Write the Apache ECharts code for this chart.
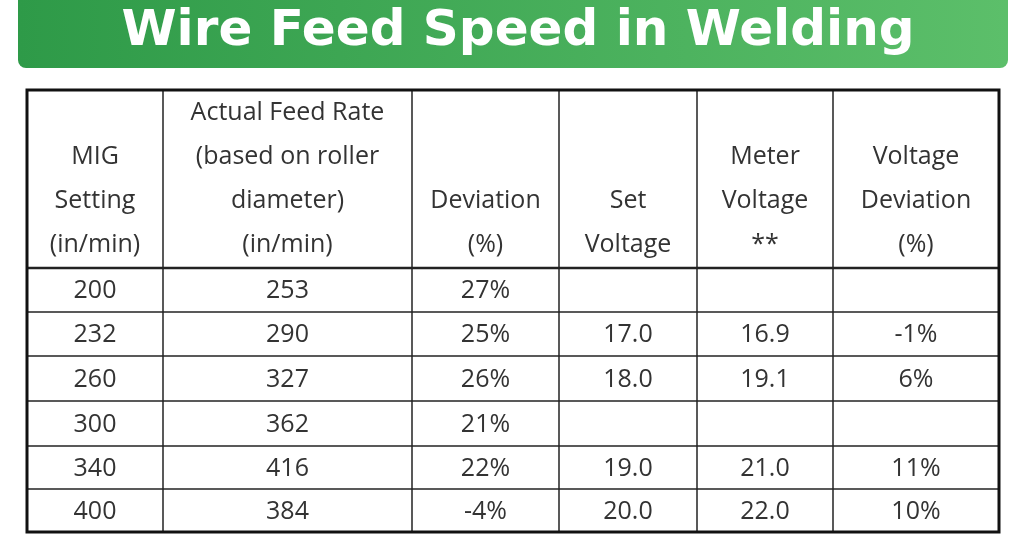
<!DOCTYPE html>
<html>
<head>
<meta charset="utf-8">
<script src="https://cdn.jsdelivr.net/npm/echarts@6/dist/echarts.min.js"></script>
<style>html,body{margin:0;padding:0;background:#fff}#main{width:1024px;height:538px}</style>
</head>
<body>
<div id="main"></div>
<script>
// table data
var title = 'Wire Feed Speed in Welding';
var headers = [
    ['MIG', 'Setting', '(in/min)'],
    ['Actual Feed Rate', '(based on roller', 'diameter)', '(in/min)'],
    ['Deviation', '(%)'],
    ['Set', 'Voltage'],
    ['Meter', 'Voltage', '**'],
    ['Voltage', 'Deviation', '(%)']
];
var migSetting = ['200', '232', '260', '300', '340', '400'];
var actualFeed = ['253', '290', '327', '362', '416', '384'];
var deviation = ['27%', '25%', '26%', '21%', '22%', '-4%'];
var setVoltage = ['', '17.0', '18.0', '', '19.0', '20.0'];
var meterVoltage = ['', '16.9', '19.1', '', '21.0', '22.0'];
var voltDeviation = ['', '-1%', '6%', '', '11%', '10%'];

var columns = [migSetting, actualFeed, deviation, setVoltage, meterVoltage, voltDeviation];
var colX = [27, 163, 412, 559, 697, 833, 999];
var rowY = [90, 268, 312, 356, 401, 446, 489, 532];
var font = '"Open Sans", sans-serif';

var els = [];
// title banner
els.push({
    type: 'rect',
    shape: {x: 18, y: -10, width: 990, height: 78, r: 8},
    style: {fill: new echarts.graphic.LinearGradient(0, 0, 1, 0, [
        {offset: 0, color: '#2e9a48'}, {offset: 1, color: '#5cbf6a'}])}
});
els.push({
    type: 'text', x: 518, y: 32,
    style: {text: title, fill: '#fff', font: 'bold 50px "DejaVu Sans", sans-serif', align: 'center', verticalAlign: 'middle'}
});
// grid lines
for (var i = 1; i < colX.length - 1; i++) {
    els.push({type: 'line', shape: {x1: colX[i], y1: rowY[0], x2: colX[i], y2: rowY[rowY.length - 1]},
        style: {stroke: '#222', lineWidth: 1.5}});
}
for (var j = 1; j < rowY.length - 1; j++) {
    els.push({type: 'line', shape: {x1: colX[0], y1: rowY[j], x2: colX[colX.length - 1], y2: rowY[j]},
        style: {stroke: '#222', lineWidth: j == 1 ? 2.5 : 1.5}});
}
els.push({type: 'rect', shape: {x: colX[0], y: rowY[0], width: colX[6] - colX[0], height: rowY[7] - rowY[0]},
    style: {fill: 'none', stroke: '#111', lineWidth: 3}});
// header text, bottom aligned
for (var c = 0; c < headers.length; c++) {
    var lines = headers[c];
    var cx = (colX[c] + colX[c + 1]) / 2;
    for (var k = 0; k < lines.length; k++) {
        els.push({type: 'text', x: cx, y: 245 - (lines.length - 1 - k) * 44,
            style: {text: lines[k], fill: '#333', font: '25px ' + font, align: 'center', verticalAlign: 'middle'}});
    }
}
// body text
for (var c = 0; c < columns.length; c++) {
    var cx = (colX[c] + colX[c + 1]) / 2;
    for (var r = 0; r < columns[c].length; r++) {
        if (!columns[c][r]) continue;
        els.push({type: 'text', x: cx, y: (rowY[r + 1] + rowY[r + 2]) / 2 + 1,
            style: {text: columns[c][r], fill: '#333', font: '25px ' + font, align: 'center', verticalAlign: 'middle'}});
    }
}

var myChart = echarts.init(document.getElementById('main'));
myChart.setOption({animation: false, graphic: {elements: els}});
</script>
</body>
</html>
